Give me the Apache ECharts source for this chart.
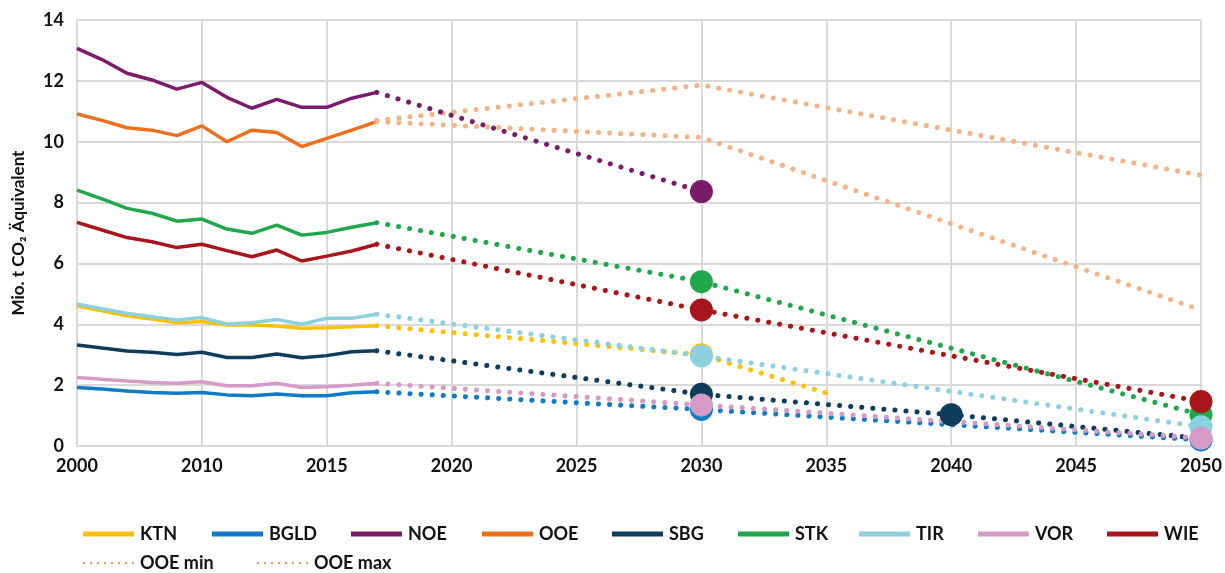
<!DOCTYPE html>
<html lang="de">
<head>
    <meta charset="UTF-8">
    <title>Emissionen Bundesländer</title>
    <script src="https://cdn.jsdelivr.net/npm/echarts@6/dist/echarts.min.js"></script>
    <style>
        body { margin: 0; background: #fff; }
    </style>
</head>
<body>
    <div id="main" style="width: 1225px;height: 573px;"></div>
<script>
    // Kategorien: 2000, dann 2006 ... 2050
    var years = ['2000'];
    for (var y = 2006; y <= 2050; y++) years.push(String(y));

    var histYears = ['2000','2006','2007','2008','2009','2010','2011','2012','2013','2014','2015','2016','2017'];

    // Historische Werte (Mio. t CO2 Äquivalent)
    var ktn  = [4.60, 4.44, 4.28, 4.17, 4.05, 4.09, 3.98, 3.98, 3.94, 3.87, 3.89, 3.92, 3.95];
    var bgld = [1.92, 1.87, 1.81, 1.76, 1.73, 1.76, 1.68, 1.65, 1.71, 1.65, 1.65, 1.75, 1.78];
    var noe  = [13.07, 12.70, 12.25, 12.03, 11.73, 11.95, 11.46, 11.10, 11.39, 11.13, 11.13, 11.43, 11.62];
    var ooe  = [10.91, 10.70, 10.46, 10.38, 10.20, 10.52, 10.00, 10.38, 10.30, 9.84, 10.11, 10.38, 10.66];
    var sbg  = [3.32, 3.22, 3.12, 3.08, 3.01, 3.08, 2.91, 2.91, 3.02, 2.90, 2.97, 3.10, 3.13];
    var stk  = [8.41, 8.12, 7.81, 7.65, 7.39, 7.46, 7.13, 6.99, 7.26, 6.93, 7.02, 7.19, 7.34];
    var tir  = [4.67, 4.51, 4.36, 4.25, 4.14, 4.22, 4.01, 4.05, 4.16, 4.00, 4.20, 4.20, 4.33];
    var vor  = [2.25, 2.19, 2.14, 2.09, 2.06, 2.11, 1.98, 1.98, 2.06, 1.92, 1.95, 2.00, 2.06];
    var wie  = [7.35, 7.10, 6.85, 6.71, 6.52, 6.63, 6.42, 6.22, 6.44, 6.08, 6.24, 6.41, 6.63];

    // Ziele / Pfade (Jahr, Wert) und Jahre mit Markierung
    var ktnPathYears  = ['2017', '2030', '2035'];  var ktnPath  = [3.95, 3.00, 1.74];
    var bgldPathYears = ['2017', '2030', '2050'];  var bgldPath = [1.78, 1.20, 0.20];
    var noePathYears  = ['2017', '2030'];          var noePath  = [11.62, 8.36];
    var sbgPathYears  = ['2017', '2030', '2040', '2050']; var sbgPath = [3.13, 1.70, 1.03, 0.25];
    var stkPathYears  = ['2017', '2030', '2050'];  var stkPath  = [7.34, 5.40, 1.03];
    var tirPathYears  = ['2017', '2030', '2050'];  var tirPath  = [4.33, 2.96, 0.63];
    var vorPathYears  = ['2017', '2030', '2050'];  var vorPath  = [2.06, 1.35, 0.26];
    var wiePathYears  = ['2017', '2030', '2050'];  var wiePath  = [6.63, 4.47, 1.46];
    var ooeMinYears   = ['2017', '2030', '2050'];  var ooeMin   = [10.66, 10.14, 4.47];
    var ooeMaxYears   = ['2017', '2030', '2050'];  var ooeMax   = [10.70, 11.86, 8.90];

    var ktnMarks  = ['2030'];
    var bgldMarks = ['2030', '2050'];
    var noeMarks  = ['2030'];
    var sbgMarks  = ['2030', '2040'];
    var stkMarks  = ['2030', '2050'];
    var tirMarks  = ['2030', '2050'];
    var vorMarks  = ['2030', '2050'];
    var wieMarks  = ['2030', '2050'];

    var regions = ['KTN', 'BGLD', 'NOE', 'OOE', 'SBG', 'STK', 'TIR', 'VOR', 'WIE'];
    var ranges = ['OOE min', 'OOE max'];

    var colors = {
        KTN: '#FFC000', BGLD: '#0F7BC4', NOE: '#7A1B6C', OOE: '#EC6F1E', SBG: '#0E3D5C',
        STK: '#21A74B', TIR: '#8DD0DF', VOR: '#D69AC6', WIE: '#A8151A', OOEP: '#F3B387'
    };

    // Legendenpositionen (Layout)
    var legendLeft1 = [78, 207, 346, 477, 607, 733, 854, 973, 1102];
    var legendLeft2 = [78, 252];

    function fill(yrs, vals) {
        var arr = years.map(function () { return null; });
        yrs.forEach(function (yr, i) { arr[years.indexOf(yr)] = vals[i]; });
        return arr;
    }

    function hist(name, vals) {
        return {
            name: name, type: 'line', data: fill(histYears, vals),
            symbol: 'none', color: colors[name],
            lineStyle: { width: 3.5, color: colors[name] },
            z: 3
        };
    }

    function proj(name, yrs, vals, marks, color) {
        var data = fill(yrs, vals).map(function (v, i) {
            if (v === null) return null;
            var m = marks.indexOf(years[i]) >= 0;
            return { value: v, symbolSize: m ? 23 : 0 };
        });
        return {
            name: name, type: 'line', data: data, connectNulls: true,
            symbol: 'circle', showAllSymbol: true, color: color,
            itemStyle: { color: color },
            lineStyle: { width: 5, color: color, type: [0.1, 11], cap: 'round' },
            z: 4
        };
    }

    var dots = 'path://M1,0 a1,1 0 1,0 0.01,0 Z M8,0 a1,1 0 1,0 0.01,0 Z M15,0 a1,1 0 1,0 0.01,0 Z M22,0 a1,1 0 1,0 0.01,0 Z M29,0 a1,1 0 1,0 0.01,0 Z M36,0 a1,1 0 1,0 0.01,0 Z M43,0 a1,1 0 1,0 0.01,0 Z M50,0 a1,1 0 1,0 0.01,0 Z';
    var bar = 'path://M0,4.5 L51,4.5 L51,9.5 L0,9.5 Z';
    var legendText = { fontFamily: 'Lato', fontSize: 18, fontWeight: 'bold', color: '#111', padding: [0, 0, 0, 1] };

    var legends = regions.map(function (name, i) {
        return {
            data: [name], left: legendLeft1[i], top: 520,
            itemWidth: 51, itemHeight: 14, icon: bar, textStyle: legendText
        };
    }).concat(ranges.map(function (name, i) {
        return {
            data: [{ name: name, icon: dots, itemStyle: { color: '#EC6F1E' } }],
            left: legendLeft2[i], top: 549, itemWidth: 51, itemHeight: 3, textStyle: legendText
        };
    }));

    var myChart = echarts.init(document.getElementById('main'));

    myChart.setOption({
        animation: false,
        textStyle: { fontFamily: 'Lato' },
        grid: { left: 77, right: 24, top: 20, bottom: 127 },
        legend: legends,
        xAxis: {
            type: 'category',
            data: years,
            boundaryGap: false,
            axisTick: { show: false },
            axisLine: { lineStyle: { color: '#d9d9d9', width: 2 } },
            axisLabel: {
                interval: 4, margin: 11,
                fontSize: 18, fontWeight: 'bold', color: '#111'
            },
            splitLine: { show: true, interval: 4, lineStyle: { color: '#d9d9d9', width: 2 } }
        },
        yAxis: {
            type: 'value',
            min: 0, max: 14, interval: 2,
            name: 'Mio. t CO₂ Äquivalent',
            nameLocation: 'middle', nameGap: 50,
            nameTextStyle: { fontSize: 17, fontWeight: 'bold', color: '#111' },
            axisLabel: { fontSize: 18, fontWeight: 'bold', color: '#111', margin: 13 },
            axisLine: { show: true, lineStyle: { color: '#d9d9d9', width: 2 } },
            splitLine: { lineStyle: { color: '#d9d9d9', width: 2 } }
        },
        series: regions.map(function (name, i) {
            return hist(name, [ktn, bgld, noe, ooe, sbg, stk, tir, vor, wie][i]);
        }).concat([
            proj('OOE min', ooeMinYears, ooeMin, [], colors.OOEP),
            proj('OOE max', ooeMaxYears, ooeMax, [], colors.OOEP),
            proj('KTN Pfad', ktnPathYears, ktnPath, ktnMarks, colors.KTN),
            proj('BGLD Pfad', bgldPathYears, bgldPath, bgldMarks, colors.BGLD),
            proj('NOE Pfad', noePathYears, noePath, noeMarks, colors.NOE),
            proj('SBG Pfad', sbgPathYears, sbgPath, sbgMarks, colors.SBG),
            proj('STK Pfad', stkPathYears, stkPath, stkMarks, colors.STK),
            proj('TIR Pfad', tirPathYears, tirPath, tirMarks, colors.TIR),
            proj('VOR Pfad', vorPathYears, vorPath, vorMarks, colors.VOR),
            proj('WIE Pfad', wiePathYears, wiePath, wieMarks, colors.WIE)
        ])
    });
</script>
</body>
</html>
